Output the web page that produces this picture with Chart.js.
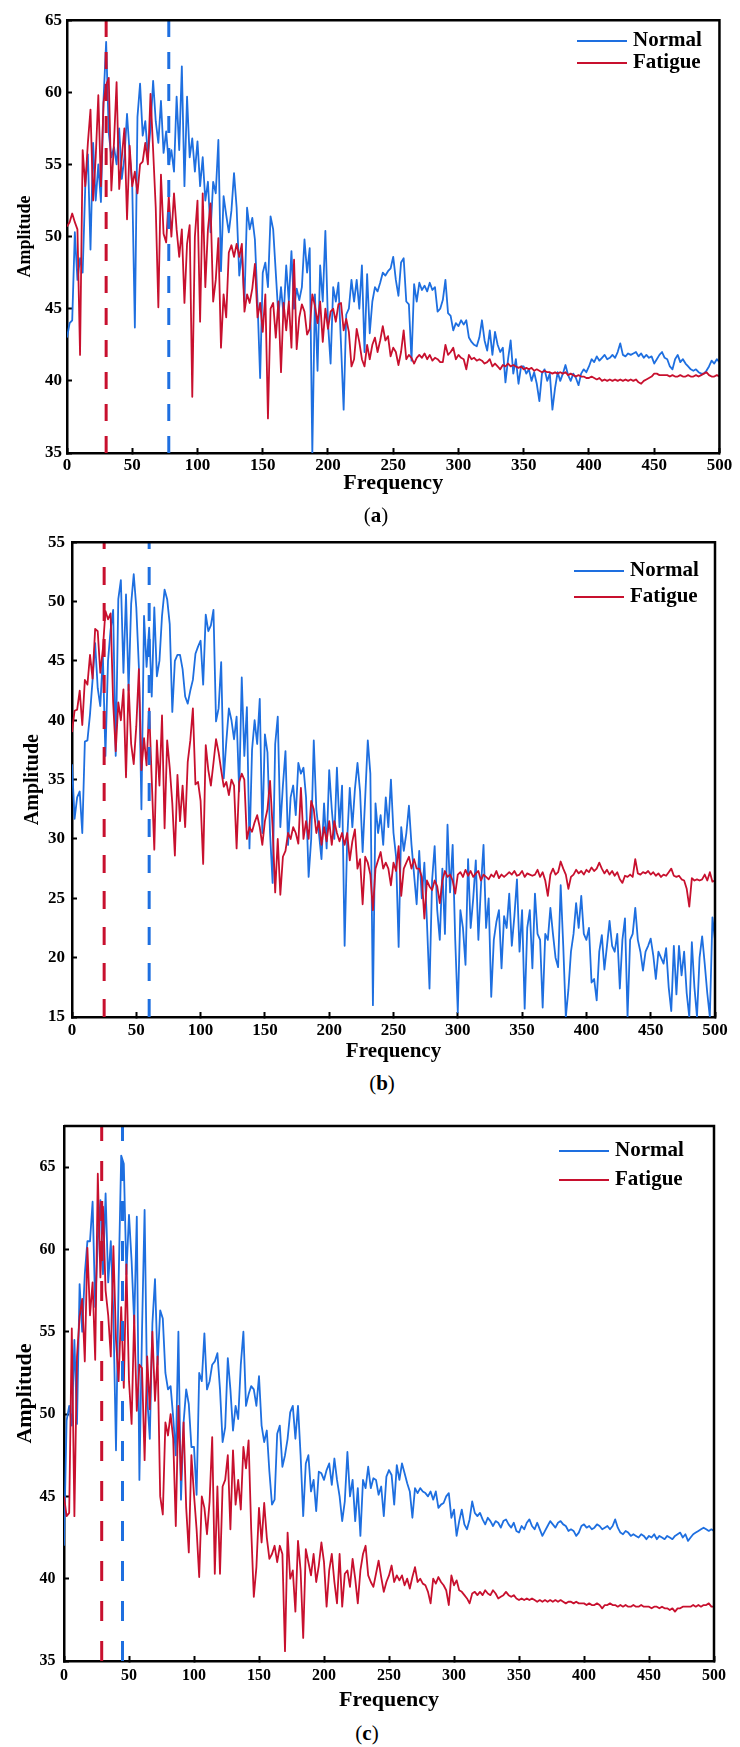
<!DOCTYPE html>
<html>
<head>
<meta charset="utf-8">
<title>Amplitude spectra - Normal vs Fatigue</title>
<script src="https://cdn.jsdelivr.net/npm/chart.js@4.4.1/dist/chart.umd.min.js"></script>
<style>
  html, body { margin: 0; padding: 0; background: #fff; }
  body { width: 740px; height: 1747px; position: relative; overflow: hidden; }
  .panel { position: absolute; left: 0; width: 740px; }
  .cap {
    position: absolute;
    transform: translate(-50%, -50%);
    font-family: 'Liberation Serif', 'Times New Roman', serif;
    font-size: 21px;
    color: #000;
    white-space: nowrap;
  }
</style>
</head>
<body>
<div class="panel" style="top:0px;height:500px"><canvas id="chartA"></canvas></div>
<div class="panel" style="top:520px;height:548px"><canvas id="chartB"></canvas></div>
<div class="panel" style="top:1100px;height:620px"><canvas id="chartC"></canvas></div>
<div class="cap" style="left:376px;top:515px">(<b>a</b>)</div>
<div class="cap" style="left:382px;top:1083px">(<b>b</b>)</div>
<div class="cap" style="left:367px;top:1733px">(<b>c</b>)</div>

<script>
const BLUE = "#1e6fe0";
const RED = "#c8102e";
const SERIF = "'Liberation Serif', 'Times New Roman', serif";

/* ---------- DATA ---------- */
// sampling grid of the spectra, 0..500 Hz every 2 Hz
const freqs = Array.from({ length: 251 }, (_, i) => i * 2);
const freqTicks = [0, 50, 100, 150, 200, 250, 300, 350, 400, 450, 500];
const seriesNames = ["Normal", "Fatigue"];

// (a)
const aYTicks = [35, 40, 45, 50, 55, 60, 65];
const aPeaks = [78, 30]; // normal, fatigue
const aNormal = [
  43.0, 44.0, 44.2, 50.3, 47.0, 48.5, 47.5, 53.5, 55.7, 49.1,
  56.5, 52.5, 55.0, 52.4, 59.5, 63.5, 57.2, 55.5, 56.2, 55.0,
  57.5, 54.0, 55.5, 58.5, 55.8, 53.5, 43.7, 58.3, 60.6, 57.0,
  58.0, 55.6, 57.5, 60.8, 58.0, 56.5, 59.4, 55.8, 57.3, 55.0,
  56.0, 54.5, 59.7, 56.0, 61.8, 53.5, 59.7, 55.5, 56.8, 54.5,
  56.6, 53.5, 55.5, 52.5, 53.8, 50.3, 53.8, 53.0, 56.7, 47.6,
  52.8, 51.5, 50.3, 51.8, 54.4, 52.0, 47.3, 49.0, 45.5, 52.0,
  50.5, 51.3, 49.8, 45.5, 40.2, 47.5, 48.2, 46.5, 51.4, 50.5,
  47.5, 44.5, 46.5, 44.5, 48.0, 45.5, 49.0, 45.0, 46.4, 45.6,
  46.5, 49.8, 47.5, 49.2, 35.0, 46.0, 40.7, 48.0, 45.5, 50.4,
  44.0, 41.2, 46.5, 45.5, 46.8, 42.5, 38.0, 44.6, 45.0, 47.0,
  45.5, 47.0, 45.0, 48.0, 42.0, 47.4, 43.3, 45.5, 46.5, 46.2,
  46.8, 47.5, 47.3, 47.6, 47.8, 48.6, 47.0, 45.9, 48.2, 48.5,
  45.5, 45.3, 41.4, 46.7, 45.5, 46.8, 46.3, 46.6, 46.2, 46.8,
  46.3, 46.5, 44.8, 45.0, 45.6, 47.0, 44.7, 44.5, 43.5, 44.0,
  43.8, 44.2, 43.9, 44.2, 43.0, 42.7, 42.5, 42.4, 43.0, 44.2,
  42.8, 42.1, 43.5, 41.8, 43.4, 42.5, 42.0, 42.3, 39.9, 41.5,
  42.8, 40.5, 41.5, 39.8, 41.0, 41.0, 40.5, 40.8, 40.0, 40.6,
  39.8, 38.6, 40.5, 40.8, 40.0, 40.5, 38.0, 39.5, 40.6, 40.0,
  40.5, 41.1, 40.4, 40.0, 40.5, 40.2, 39.7, 40.5, 40.8, 40.6,
  41.0, 41.5, 41.3, 41.7, 41.4, 41.6, 41.8, 41.5, 41.6, 41.8,
  41.6, 42.0, 42.6, 41.8, 41.7, 41.9, 41.8, 41.9, 42.0, 41.7,
  41.9, 41.6, 41.8, 41.6, 41.7, 41.2, 41.5, 41.8, 42.0, 41.6,
  41.5, 41.0, 40.8, 41.5, 41.8, 41.3, 41.5, 41.2, 41.0, 40.8,
  40.7, 40.8, 40.6, 40.5, 40.5, 40.7, 41.0, 41.4, 41.2, 41.5,
  41.3
];
const aFatigue = [
  50.7, 51.0, 51.6, 51.0, 50.5, 41.8, 56.0, 53.5, 56.5, 58.8,
  52.5, 55.5, 59.8, 53.5, 59.3, 60.5, 61.0, 53.2, 56.5, 60.7,
  53.3, 55.5, 57.5, 51.2, 56.3, 53.5, 54.5, 53.0, 55.0, 55.2,
  56.5, 55.0, 59.9, 56.0, 52.0, 45.1, 54.3, 50.2, 49.6, 52.8,
  50.0, 53.0, 50.5, 48.6, 50.5, 45.4, 49.5, 50.8, 38.9, 50.0,
  52.5, 44.1, 53.0, 46.5, 50.5, 52.3, 45.5, 47.0, 49.9, 42.3,
  46.0, 44.4, 48.9, 49.4, 48.6, 49.5, 48.6, 49.5, 44.8, 46.0,
  45.4, 46.4, 48.1, 44.4, 45.4, 43.4, 46.0, 37.4, 45.0, 45.4,
  43.0, 45.5, 40.6, 45.4, 43.5, 45.5, 42.3, 48.4, 42.2, 44.4,
  45.3, 44.8, 43.2, 43.6, 46.0, 45.2, 44.0, 45.5, 42.7, 45.0,
  43.6, 44.8, 45.0, 44.1, 45.3, 45.4, 43.5, 44.3, 43.4, 41.0,
  41.5, 43.6, 42.7, 41.5, 41.0, 42.5, 41.5, 42.5, 43.0, 42.0,
  42.8, 43.8, 42.8, 43.1, 41.7, 42.3, 42.0, 41.1, 42.0, 43.5,
  41.5, 41.8, 41.6, 41.2, 41.6, 41.8, 41.6, 41.9, 41.5, 41.8,
  41.4, 41.6, 41.5, 41.3, 41.3, 42.5, 41.8, 42.0, 42.3, 41.5,
  41.8, 41.6, 41.5, 40.8, 41.8, 41.5, 41.6, 41.4, 41.5, 41.4,
  41.2, 41.3, 41.5, 41.0, 41.2, 41.0, 40.8, 41.1, 41.0, 41.2,
  41.0, 41.1, 41.0, 40.9, 41.0, 40.8, 40.9, 40.8, 40.9, 40.7,
  40.8, 40.7, 40.6, 40.7, 40.6, 40.6, 40.5, 40.6, 40.5, 40.6,
  40.5, 40.6, 40.4, 40.5, 40.4, 40.3, 40.4, 40.3, 40.3, 40.2,
  40.2, 40.3, 40.2, 40.1, 40.2, 40.0, 40.1, 40.0, 40.1, 40.0,
  40.1, 40.0, 40.1, 40.0, 40.1, 40.0, 40.1, 40.0, 40.1, 39.9,
  39.8, 40.0, 40.1, 40.2, 40.3, 40.5, 40.5, 40.4, 40.4, 40.4,
  40.4, 40.3, 40.4, 40.3, 40.3, 40.4, 40.3, 40.3, 40.4, 40.3,
  40.3, 40.4, 40.3, 40.4, 40.5, 40.6, 40.4, 40.3, 40.3, 40.4,
  40.3
];

// (b)
const bYTicks = [15, 20, 25, 30, 35, 40, 45, 50, 55];
const bPeaks = [60, 25];
const bNormal = [
  36.3, 31.7, 33.5, 34.0, 30.5, 38.2, 38.3, 40.5, 43.4, 46.5,
  42.7, 41.2, 45.5, 37.0, 45.0, 47.6, 49.3, 37.0, 50.2, 51.8,
  44.0, 50.6, 42.5, 49.8, 52.3, 49.5, 44.5, 32.5, 48.8, 44.5,
  47.8, 42.0, 49.5, 43.7, 45.0, 48.8, 51.0, 50.2, 48.1, 40.7,
  45.0, 45.5, 45.5, 44.3, 42.0, 41.4, 42.5, 43.4, 45.6, 46.2,
  46.7, 43.0, 48.9, 47.5, 48.0, 49.3, 39.9, 41.0, 44.9, 35.1,
  38.2, 41.0, 40.0, 38.4, 40.3, 34.0, 43.6, 37.0, 41.1, 29.2,
  37.5, 40.0, 38.0, 41.8, 30.5, 38.8, 37.3, 30.5, 26.3, 38.0,
  40.3, 31.0, 34.5, 37.4, 29.5, 33.5, 34.5, 32.0, 36.4, 35.5,
  36.0, 33.5, 26.8, 30.0, 38.3, 32.5, 30.5, 28.3, 33.0, 29.2,
  35.8, 32.5, 30.0, 36.0, 31.0, 34.5, 21.0, 30.0, 34.3, 31.0,
  34.2, 36.4, 34.0, 28.9, 33.5, 38.3, 35.5, 16.0, 33.0, 30.5,
  32.0, 29.5, 33.5, 31.0, 35.0, 30.5, 28.5, 20.9, 31.0, 29.0,
  30.5, 32.8, 29.5, 27.0, 24.5, 29.0, 25.0, 28.0, 23.0, 17.4,
  26.5, 29.4, 24.0, 21.5, 27.5, 22.0, 31.2, 25.5, 29.5, 21.5,
  15.4, 24.0, 22.5, 19.4, 28.3, 22.5, 25.0, 28.2, 21.5, 26.0,
  29.5, 22.5, 25.0, 16.7, 21.5, 23.0, 24.0, 19.1, 23.5, 22.5,
  25.4, 21.0, 23.5, 26.6, 20.5, 24.0, 15.7, 22.5, 24.0, 19.1,
  25.4, 22.0, 21.5, 15.8, 22.0, 21.5, 24.2, 22.0, 20.0, 19.2,
  26.1, 21.0, 15.0, 17.3, 20.5, 22.0, 24.6, 22.5, 25.2, 22.0,
  21.5, 22.5, 17.9, 18.2, 16.4, 20.5, 21.9, 19.0, 21.0, 23.1,
  21.0, 20.5, 22.0, 17.4, 21.5, 23.3, 15.0, 21.5, 22.0, 24.2,
  21.5, 20.5, 18.9, 20.5, 21.0, 21.6, 20.2, 18.2, 20.5, 20.0,
  19.5, 20.8, 17.5, 15.5, 21.0, 16.9, 21.0, 18.5, 20.5, 17.0,
  15.0, 21.3, 17.5, 15.0, 20.0, 21.8, 19.5, 17.0, 15.0, 23.4,
  21.5
];
const bFatigue = [
  39.0, 40.8, 40.9, 42.5, 39.6, 43.4, 43.0, 45.5, 43.5, 47.7,
  47.5, 44.0, 46.0, 49.2, 48.5, 49.0, 41.5, 37.4, 41.5, 40.0,
  42.6, 35.2, 43.0, 38.0, 36.3, 39.5, 44.3, 35.8, 38.5, 36.2,
  41.0, 35.0, 29.1, 38.3, 34.5, 40.4, 30.9, 38.3, 36.0, 33.0,
  28.6, 35.4, 31.5, 34.5, 31.0, 36.5, 38.3, 41.0, 34.6, 34.8,
  33.2, 27.9, 37.9, 35.8, 34.5, 36.4, 38.4, 37.3, 35.8, 34.4,
  34.8, 33.7, 35.0, 34.5, 29.2, 34.8, 35.5, 35.0, 30.0, 31.0,
  30.6, 31.4, 32.0, 31.0, 29.5, 31.5, 32.5, 34.9, 31.0, 25.5,
  30.0, 25.3, 28.5, 29.0, 30.5, 30.0, 31.0, 30.5, 29.6, 34.3,
  30.0, 31.5, 30.0, 33.2, 32.5, 30.5, 31.5, 29.5, 31.0, 29.8,
  31.5, 29.5, 31.5, 30.5, 29.8, 30.5, 29.5, 30.5, 28.2, 29.8,
  30.8, 27.5, 28.3, 24.5, 28.5, 28.0, 27.0, 24.0, 27.5, 28.2,
  28.9, 27.5, 28.0, 27.5, 26.1, 28.0, 27.3, 29.4, 25.2, 27.5,
  28.0, 28.5, 27.5, 28.3, 27.5, 27.5, 26.8, 23.3, 26.5, 26.0,
  25.7, 26.5, 26.0, 24.6, 26.5, 27.3, 26.8, 27.0, 26.5, 25.4,
  27.0, 27.2, 26.8, 27.4, 26.9, 27.3, 26.8, 27.1, 27.3, 26.5,
  27.0, 26.8, 26.6, 27.0, 26.8, 27.3, 26.7, 27.0, 26.8, 27.0,
  27.2, 27.0, 27.3, 26.9, 27.0, 27.3, 26.8, 27.1, 27.0, 26.9,
  27.0, 27.4, 26.8, 27.2, 26.5, 25.2, 27.0, 27.5, 27.0, 27.2,
  28.1, 27.5, 27.0, 25.8, 26.8, 27.0, 27.4, 27.1, 27.3, 27.0,
  27.4, 27.2, 27.6, 27.3, 27.5, 28.0, 27.5, 27.1, 27.4, 27.0,
  27.3, 26.9, 27.2, 26.6, 26.3, 26.9, 26.8, 27.0, 26.8, 28.3,
  27.1, 27.0, 27.2, 27.1, 27.3, 27.0, 27.2, 26.9, 27.1, 26.8,
  27.0, 26.9, 27.2, 27.5, 26.9, 26.8, 26.9, 26.6, 26.5, 25.8,
  24.3, 26.7, 26.5, 26.6, 26.5, 26.6, 27.0, 26.5, 27.2, 26.4,
  26.5
];

// (c)
const cYTicks = [35, 40, 45, 50, 55, 60, 65];
const cPeaks = [45, 29];
const cNormal = [
  42.0, 49.6, 50.5, 49.3, 54.5, 49.4, 57.9, 55.0, 58.5, 60.5,
  60.5, 62.9, 56.5, 60.5, 63.0, 58.5, 63.4, 58.0, 60.5, 56.0,
  47.8, 58.0, 65.7, 65.2, 58.5, 62.1, 59.3, 55.5, 62.0, 46.0,
  55.0, 62.4, 51.0, 48.5, 55.5, 58.2, 53.0, 56.3, 55.8, 52.5,
  51.5, 51.7, 49.8, 47.5, 55.0, 44.8, 49.5, 51.5, 50.6, 48.0,
  48.0, 45.1, 52.5, 52.0, 54.9, 51.5, 52.0, 53.0, 53.2, 53.7,
  51.5, 48.3, 49.2, 53.4, 51.5, 49.0, 50.5, 49.7, 53.0, 55.0,
  50.5, 51.2, 51.7, 51.5, 50.5, 52.3, 49.3, 48.3, 49.0, 46.5,
  44.5, 44.8, 48.8, 49.3, 46.8, 47.5, 48.5, 50.1, 50.5, 48.5,
  50.5, 47.5, 43.8, 47.0, 47.5, 45.3, 46.0, 44.1, 46.5, 46.4,
  46.0, 46.6, 47.0, 45.7, 47.3, 46.0, 45.0, 43.5, 44.7, 47.7,
  45.0, 46.0, 43.5, 45.5, 42.6, 46.0, 45.5, 46.8, 45.5, 46.1,
  46.0, 45.1, 45.6, 43.8, 46.2, 46.6, 46.3, 44.5, 46.9, 46.0,
  47.0, 46.4, 45.8, 45.3, 43.7, 45.5, 45.2, 45.5, 45.3, 45.2,
  45.0, 45.3, 44.8, 45.3, 44.3, 44.5, 44.6, 45.0, 45.2, 43.7,
  44.2, 42.6, 43.5, 44.2, 43.3, 43.0, 43.6, 44.7, 44.0, 43.8,
  44.0, 43.6, 43.3, 43.7, 43.5, 43.2, 43.5, 43.4, 43.1, 43.5,
  43.6, 43.3, 43.1, 43.4, 42.9, 42.8, 43.2, 43.0, 43.4, 43.6,
  43.2, 43.0, 43.4, 43.0, 42.6, 42.9, 43.2, 43.5, 43.3, 43.1,
  43.4, 43.5, 43.3, 43.2, 42.9, 43.0, 42.9, 42.6, 42.8, 43.2,
  43.3, 43.1, 43.2, 43.0, 43.1, 43.3, 43.2, 43.0, 43.1, 43.2,
  43.0, 43.2, 43.6, 43.1, 42.8, 42.7, 42.9, 42.8, 42.6, 42.7,
  42.6, 42.5, 42.7, 42.6, 42.4, 42.6, 42.5, 42.7, 42.4, 42.6,
  42.5, 42.4, 42.6, 42.5, 42.4, 42.6, 42.7, 42.8, 42.5, 42.7,
  42.3, 42.5, 42.7, 42.8, 42.9, 43.0, 43.1, 43.0, 42.9, 43.0,
  42.9
];
const cFatigue = [
  45.0, 43.8, 44.0, 55.2, 43.8, 53.5, 55.9, 57.0, 53.2, 60.1,
  56.0, 58.0, 53.3, 64.6, 58.3, 62.6, 57.5, 56.0, 53.5, 60.2,
  54.5, 52.0, 56.5, 51.6, 59.1, 52.0, 49.4, 56.0, 50.2, 53.0,
  52.8, 47.2, 53.5, 50.3, 55.0, 50.8, 53.5, 45.0, 43.9, 49.5,
  48.7, 50.0, 48.5, 43.2, 50.5, 46.0, 49.5, 44.3, 41.6, 47.5,
  45.1, 43.0, 40.1, 45.0, 44.3, 42.7, 44.7, 48.6, 40.3, 45.6,
  40.3, 45.6, 46.0, 47.5, 43.0, 47.8, 44.5, 46.0, 44.2, 48.0,
  46.7, 48.4, 43.0, 38.9, 40.7, 44.3, 42.2, 44.6, 42.5, 41.2,
  41.5, 42.0, 41.0, 42.0, 41.5, 35.6, 42.8, 40.0, 40.5, 38.0,
  42.3, 40.5, 36.4, 41.8, 41.0, 40.2, 41.5, 39.8, 40.8, 42.2,
  41.0, 38.3, 40.5, 41.5, 39.8, 38.5, 41.5, 38.3, 40.3, 40.5,
  39.5, 41.2, 40.0, 38.5, 40.5, 41.5, 42.0, 40.2, 39.8, 39.5,
  40.3, 41.1, 40.1, 39.2, 39.8, 40.2, 40.8, 39.8, 40.2, 39.9,
  40.2, 39.6, 40.0, 39.4, 40.1, 40.7, 39.8, 40.0, 39.7, 39.6,
  39.2, 38.5, 40.0, 39.7, 40.1, 39.8, 39.6, 39.3, 38.4, 40.2,
  39.6, 39.9, 39.3, 39.2, 39.0, 38.8, 38.5, 39.1, 39.2, 39.0,
  39.2, 39.0, 39.3, 39.1, 39.0, 39.3, 39.1, 38.8, 38.9, 39.0,
  39.2, 39.0, 38.9, 39.0, 38.8, 38.7, 38.8, 38.7, 38.8, 38.7,
  38.8, 38.7, 38.6, 38.7, 38.6, 38.7, 38.6, 38.7, 38.6, 38.7,
  38.6, 38.7, 38.6, 38.5, 38.6, 38.6, 38.5, 38.6, 38.5, 38.5,
  38.5, 38.4, 38.5, 38.4, 38.4, 38.5, 38.4, 38.2, 38.4, 38.4,
  38.5, 38.4, 38.4, 38.3, 38.4, 38.3, 38.4, 38.3, 38.3, 38.4,
  38.3, 38.3, 38.4, 38.3, 38.3, 38.3, 38.2, 38.3, 38.3, 38.2,
  38.3, 38.2, 38.2, 38.1, 38.2, 38.0, 38.2, 38.2, 38.3, 38.3,
  38.3, 38.3, 38.4, 38.3, 38.4, 38.3, 38.4, 38.4, 38.5, 38.3,
  38.3
];

/* ---------- LAYOUT (page pixels) ---------- */
const panels = [
  { id: "chartA", top: 0, height: 500, left: 67, right: 724, plotTop: 17, plotBottom: 453,
    yMin: 35, yMax: 65, yTicks: aYTicks, normal: aNormal, fatigue: aFatigue, peaks: aPeaks,
    tickSize: 17, xLabelGap: 13, yLabelGap: 5, xTitleSize: 22, xTitleY: 483,
    yTitleSize: 18, yTitleX: 25, dash: [17, 15], legendX: 577, legendRows: [41, 63] },
  { id: "chartB", top: 520, height: 548, left: 72, right: 715, plotTop: 537, plotBottom: 1017,
    yMin: 15, yMax: 55, yTicks: bYTicks, normal: bNormal, fatigue: bFatigue, peaks: bPeaks,
    tickSize: 17, xLabelGap: 14, yLabelGap: 7, xTitleSize: 21, xTitleY: 1052,
    yTitleSize: 20, yTitleX: 33, dash: [18, 18], legendX: 574, legendRows: [571, 597] },
  { id: "chartC", top: 1100, height: 620, left: 64, right: 714, plotTop: 1126, plotBottom: 1661,
    yMin: 35, yMax: 67.5, yTicks: cYTicks, normal: cNormal, fatigue: cFatigue, peaks: cPeaks,
    tickSize: 16, xLabelGap: 15, yLabelGap: 8.5, xTitleSize: 22, xTitleY: 1700,
    yTitleSize: 22, yTitleX: 25, dash: [20, 20], legendX: 559, legendRows: [1151, 1180] }
];

const TICK = 5; // inward tick length

/* ---------- PLUGINS ---------- */
// closes the frame on top and right side
const frameBox = {
  id: "frameBox",
  afterDraw(chart) {
    const { ctx, chartArea: a } = chart;
    ctx.save();
    ctx.strokeStyle = "#000";
    ctx.lineWidth = 2.5;
    ctx.beginPath();
    ctx.moveTo(a.left, a.top);
    ctx.lineTo(a.right, a.top);
    ctx.lineTo(a.right, a.bottom);
    ctx.stroke();
    ctx.restore();
  }
};

// legend with line samples in the upper right corner
const cornerLegend = {
  id: "cornerLegend",
  afterDatasetsDraw(chart, args, opts) {
    const ctx = chart.ctx;
    const items = chart.data.datasets.filter(ds => ds.inLegend);
    ctx.save();
    ctx.font = "bold " + opts.size + "px " + SERIF;
    ctx.textBaseline = "middle";
    ctx.textAlign = "left";
    items.forEach((ds, i) => {
      const y = opts.rows[i];
      ctx.strokeStyle = ds.borderColor;
      ctx.lineWidth = 2;
      ctx.beginPath();
      ctx.moveTo(opts.x, y);
      ctx.lineTo(opts.x + opts.len, y);
      ctx.stroke();
      ctx.fillStyle = "#000";
      ctx.fillText(ds.label, opts.x + opts.len + 6, y);
    });
    ctx.restore();
  }
};

/* ---------- BUILD ---------- */
function pts(values) {
  return freqs.map((f, i) => ({ x: f, y: values[i] }));
}

function buildPanel(P) {
  const xBoxH = P.xTitleY + P.xTitleSize * 0.6 - P.plotBottom;
  const padBottom = P.top + P.height - (P.plotBottom + xBoxH);
  const tickFont = { family: SERIF, size: P.tickSize, weight: "bold" };

  const peakLine = (f, color) => ({
    data: [{ x: f, y: P.yMin }, { x: f, y: P.yMax }],
    borderColor: color,
    borderWidth: 3,
    borderDash: P.dash,
    pointRadius: 0,
    order: 0
  });

  new Chart(document.getElementById(P.id), {
    type: "line",
    data: {
      datasets: [
        { label: seriesNames[0], inLegend: true, data: pts(P.normal), borderColor: BLUE,
          borderWidth: 1.8, pointRadius: 0, borderJoinStyle: "round", order: 2 },
        { label: seriesNames[1], inLegend: true, data: pts(P.fatigue), borderColor: RED,
          borderWidth: 1.8, pointRadius: 0, borderJoinStyle: "round", order: 1 },
        peakLine(P.peaks[0], BLUE),
        peakLine(P.peaks[1], RED)
      ]
    },
    options: {
      responsive: true,
      maintainAspectRatio: false,
      animation: false,
      events: [],
      layout: {
        padding: { top: P.plotTop - P.top, right: 740 - P.right, left: 0, bottom: padBottom }
      },
      plugins: {
        legend: { display: false },
        tooltip: { enabled: false },
        cornerLegend: {
          x: P.legendX, len: 50, size: 21,
          rows: P.legendRows.map(r => r - P.top)
        }
      },
      scales: {
        x: {
          type: "linear",
          min: 0,
          max: 500,
          afterBuildTicks: s => { s.ticks = freqTicks.map(v => ({ value: v })); },
          afterFit: s => { s.height = xBoxH; },
          grid: { drawOnChartArea: false, drawTicks: true, tickLength: -TICK, tickWidth: 2, tickColor: "#000" },
          border: { display: true, color: "#000", width: 2.5 },
          ticks: {
            color: "#000", font: tickFont, maxRotation: 0, autoSkip: false,
            padding: P.xLabelGap + TICK - P.tickSize * 0.6
          },
          title: {
            display: true, text: "Frequency", color: "#000",
            font: { family: SERIF, size: P.xTitleSize, weight: "bold" },
            padding: { top: 0, bottom: 0 }
          }
        },
        y: {
          type: "linear",
          min: P.yMin,
          max: P.yMax,
          afterBuildTicks: s => { s.ticks = P.yTicks.map(v => ({ value: v })); },
          afterFit: s => { s.width = P.left; },
          grid: { drawOnChartArea: false, drawTicks: true, tickLength: -TICK, tickWidth: 2, tickColor: "#000" },
          border: { display: true, color: "#000", width: 2.5 },
          ticks: { color: "#000", font: tickFont, padding: P.yLabelGap + TICK },
          title: {
            display: true, text: "Amplitude", color: "#000",
            font: { family: SERIF, size: P.yTitleSize, weight: "bold" },
            padding: { top: P.yTitleX - P.yTitleSize * 0.6, bottom: 0 }
          }
        }
      }
    },
    plugins: [frameBox, cornerLegend]
  });
}

panels.forEach(buildPanel);
</script>
</body>
</html>
